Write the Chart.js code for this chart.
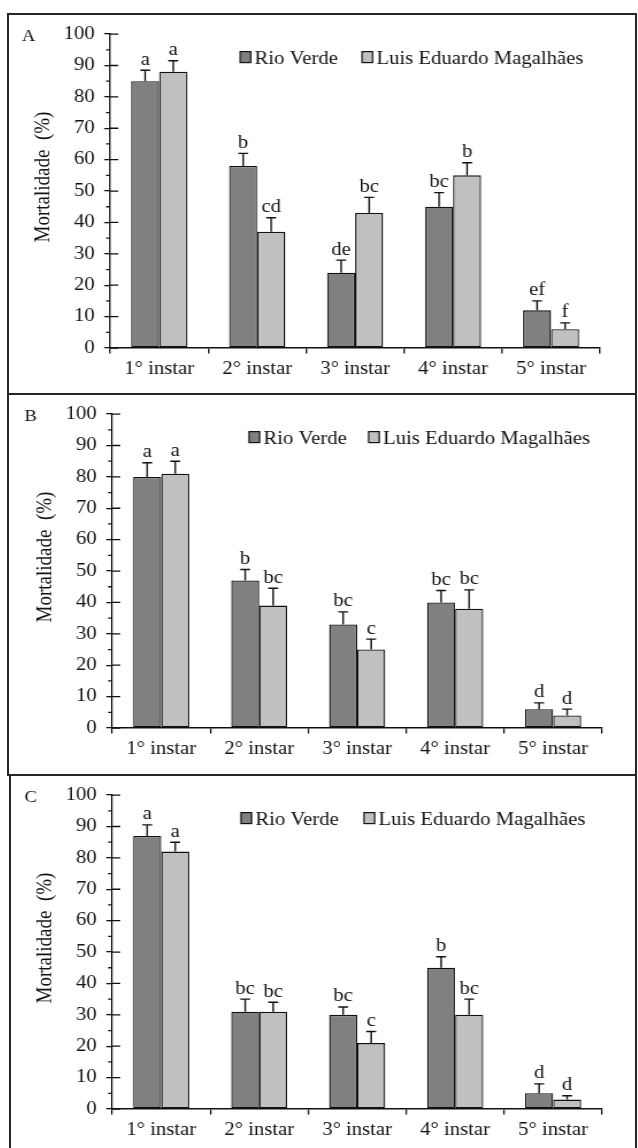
<!DOCTYPE html>
<html>
<head>
<meta charset="utf-8">
<script src="https://cdn.jsdelivr.net/npm/chart.js@4.4.1/dist/chart.umd.min.js"></script>
<style>
  html, body { margin: 0; padding: 0; background: #fff; }
  #page { position: relative; width: 638px; height: 1148px; overflow: hidden; background: #fff; }
  .panel { position: absolute; box-sizing: border-box; border: 2px solid #262626; overflow: hidden; background: #fff; }
  .panel canvas { position: absolute; top: 0; transform-origin: 0 0; transform: scaleX(1.15); }
</style>
</head>
<body>
<div id="page">
  <div class="panel" style="left:7px;top:13px;width:630px;height:382px"><canvas id="cA" width="544" height="378" style="left:0px"></canvas></div>
  <div class="panel" style="left:7px;top:393px;width:630px;height:383px"><canvas id="cB" width="544" height="378" style="left:2px"></canvas></div>
  <div class="panel" style="left:9px;top:774px;width:628px;height:390px"><canvas id="cC" width="544" height="378" style="left:0px"></canvas></div>
</div>
<script>
// Larval stages on the x axis
const instars = ['1° instar', '2° instar', '3° instar', '4° instar', '5° instar'];
const seriesNames = ['Rio Verde', 'Luis Eduardo Magalhães'];
const axisTitle = 'Mortalidade  (%)';

// Panel A
const rioVerdeA = [85, 58, 24, 45, 12];
const rioVerdeErrA = [3.5, 4, 4, 4.5, 3];
const rioVerdeLetA = ['a', 'b', 'de', 'bc', 'ef'];
const lemA = [88, 37, 43, 55, 6];
const lemErrA = [3.5, 4.5, 5, 4, 2];
const lemLetA = ['a', 'cd', 'bc', 'b', 'f'];

// Panel B
const rioVerdeB = [80, 47, 33, 40, 6];
const rioVerdeErrB = [4.5, 3.5, 4, 3.8, 2];
const rioVerdeLetB = ['a', 'b', 'bc', 'bc', 'd'];
const lemB = [81, 39, 25, 38, 4];
const lemErrB = [4, 5.5, 3.3, 6, 2];
const lemLetB = ['a', 'bc', 'c', 'bc', 'd'];

// Panel C
const rioVerdeC = [87, 31, 30, 45, 5];
const rioVerdeErrC = [3.5, 4, 2.5, 3.5, 3];
const rioVerdeLetC = ['a', 'bc', 'bc', 'b', 'd'];
const lemC = [82, 31, 21, 30, 3];
const lemErrC = [3, 3, 3.7, 5, 1.2];
const lemLetC = ['a', 'bc', 'c', 'bc', 'd'];

const SERIF = '"Liberation Serif", "Times New Roman", serif';
const INK = '#111111';
const FILLS = ['#808080', '#c0c0c0'];

// Error whiskers, significance letters, minor ticks, legend and labels
const decor = {
  id: 'decor',
  afterDatasetsDraw(chart, args, opts) {
    const ctx = chart.ctx;
    const ys = chart.scales.y;
    ctx.save();
    ctx.strokeStyle = INK;
    ctx.fillStyle = INK;
    ctx.lineWidth = 1.4;
    ctx.font = '18px ' + SERIF;
    ctx.textAlign = 'center';
    ctx.textBaseline = 'alphabetic';
    chart.data.datasets.forEach((ds, di) => {
      const meta = chart.getDatasetMeta(di);
      meta.data.forEach((bar, i) => {
        const top = ys.getPixelForValue(ds.data[i] + ds.errors[i]);
        ctx.beginPath();
        ctx.moveTo(bar.x, bar.y);
        ctx.lineTo(bar.x, top);
        ctx.moveTo(bar.x - 4.3, top);
        ctx.lineTo(bar.x + 4.3, top);
        ctx.stroke();
        ctx.fillText(ds.letters[i], bar.x, top - 5.5);
      });
    });
    ctx.restore();
  },
  afterDraw(chart, args, opts) {
    const ctx = chart.ctx;
    const ys = chart.scales.y;
    const area = chart.chartArea;
    const ax = area.left;
    ctx.save();
    ctx.strokeStyle = INK;
    ctx.lineWidth = 1.3;
    // right half of major ticks, minor ticks on the left
    ctx.beginPath();
    for (let v = 0; v <= 100; v += 5) {
      const py = ys.getPixelForValue(v);
      if (v % 10 === 0) { ctx.moveTo(ax, py); ctx.lineTo(ax + 7, py); }
      else { ctx.moveTo(ax - 3.6, py); ctx.lineTo(ax, py); }
    }
    ctx.stroke();

    // legend
    ctx.font = '18px ' + SERIF;
    ctx.textAlign = 'left';
    ctx.textBaseline = 'alphabetic';
    chart.data.datasets.forEach((ds, di) => {
      const bx = ax + opts.legendX[di];
      const by = area.top + 17.5;
      ctx.fillStyle = ds.backgroundColor;
      ctx.fillRect(bx, by, 9.2, 11);
      ctx.lineWidth = 1.2;
      ctx.strokeStyle = INK;
      ctx.strokeRect(bx, by, 9.2, 11);
      ctx.fillStyle = INK;
      ctx.fillText(ds.label, bx + 12.5, area.top + 30);
    });

    // axis title
    ctx.save();
    ctx.translate(ax - 57.5, (area.top + area.bottom) / 2 - 14);
    ctx.rotate(-Math.PI / 2);
    ctx.textAlign = 'center';
    ctx.textBaseline = 'middle';
    ctx.font = '19px ' + SERIF;
    ctx.fillStyle = INK;
    ctx.fillText(axisTitle, 0, 0);
    ctx.restore();

    // panel letter
    ctx.font = '16px ' + SERIF;
    ctx.textAlign = 'center';
    ctx.fillStyle = INK;
    ctx.fillText(opts.tag, 17, area.top + 7.3);
    ctx.restore();
  }
};

function makePanel(canvasId, tag, legendX, rv, rvErr, rvLet, lem, lemErr, lemLet) {
  const ds = (label, data, errors, letters, color) => ({
    label, data, errors, letters,
    backgroundColor: color,
    borderColor: INK,
    borderWidth: 1.3,
    borderSkipped: false,
    categoryPercentage: 0.572,
    barPercentage: 1.0
  });
  return new Chart(document.getElementById(canvasId), {
    type: 'bar',
    data: {
      labels: instars,
      datasets: [
        ds(seriesNames[0], rv, rvErr, rvLet, FILLS[0]),
        ds(seriesNames[1], lem, lemErr, lemLet, FILLS[1])
      ]
    },
    options: {
      responsive: false,
      animation: false,
      devicePixelRatio: 1,
      layout: { padding: { top: 17.5, right: 30, left: 0, bottom: 0 } },
      plugins: {
        legend: { display: false },
        tooltip: { enabled: false },
        decor: { tag, legendX }
      },
      scales: {
        x: {
          afterFit(s) { s.height = 45; },
          grid: { offset: true, drawOnChartArea: false, drawTicks: true, tickLength: 5.5, color: INK, lineWidth: 1.3 },
          border: { display: true, color: INK, width: 1.5 },
          ticks: { color: INK, font: { family: SERIF, size: 18 }, padding: 5, maxRotation: 0, autoSkip: false }
        },
        y: {
          min: 0, max: 100,
          afterFit(s) { s.width = 88; },
          grid: { drawOnChartArea: false, drawTicks: true, tickLength: 5.2, color: INK, lineWidth: 1.3 },
          border: { display: true, color: INK, width: 1.3 },
          ticks: { stepSize: 10, color: INK, font: { family: SERIF, size: 18 }, padding: 8.3 }
        }
      }
    },
    plugins: [decor]
  });
}

makePanel('cA', 'A', [113, 219], rioVerdeA, rioVerdeErrA, rioVerdeLetA, lemA, lemErrA, lemLetA);
makePanel('cB', 'B', [119, 223], rioVerdeB, rioVerdeErrB, rioVerdeLetB, lemB, lemErrB, lemLetB);
makePanel('cC', 'C', [112, 219], rioVerdeC, rioVerdeErrC, rioVerdeLetC, lemC, lemErrC, lemLetC);
</script>
</body>
</html>
